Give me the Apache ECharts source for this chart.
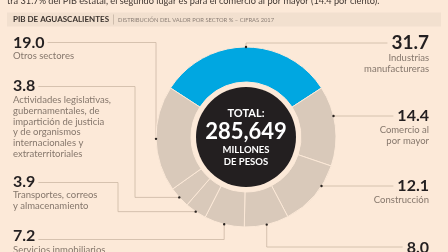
<!DOCTYPE html>
<html><head><meta charset="utf-8">
<script src="https://cdn.jsdelivr.net/npm/echarts@6/dist/echarts.min.js"></script>
<style>html,body{margin:0;padding:0;background:#fce9d8;}#c{width:448px;height:252px;}</style>
</head><body><div id="c"></div>
<script>
// ---- data ----
const sectorNames = ['Industrias\nmanufactureras','Comercio al\npor mayor','Construcción','Comercio al\npor menor','Servicios inmobiliarios\ny de alquiler de bienes','Transportes, correos\ny almacenamiento','Actividades legislativas,\ngubernamentales, de\nimpartición de justicia\ny de organismos\ninternacionales y\nextraterritoriales','Otros sectores'];
const sectorValues = [31.7, 14.4, 12.1, 8.0, 7.2, 3.9, 3.8, 19.0];
const valueLabels = ['31.7','14.4','12.1','8.0','7.2','3.9','3.8','19.0'];
const totalTitle = 'TOTAL:';
const totalLabel = '285,649';
const totalUnit = ['MILLONES','DE PESOS'];
const titleMain = 'PIB DE AGUASCALIENTES';
const titleSub = 'DISTRIBUCIÓN DEL VALOR POR SECTOR % – CIFRAS 2017';
const leadText = 'tra 31.7% del PIB estatal, el segundo lugar es para el comercio al por mayor (14.4 por ciento).';

// ---- layout / style ----
const CX = 246, CY = 137, R0 = 55, R = 90, RC = 50;
const FONT = 'Lato';
const BG = '#fce9d8', BAR = '#f2e0cf', GRAY = '#d9c9ba', BLUE = '#00a7e1', DARK = '#231f20', LINE = '#cbb7a4', DESC = '#85776c';
const LEFT_X = 13, RIGHT_X = 429;
const labelCfg = [
  {side:'R', y:32,    lineY:43,    path:'top', big:true},
  {side:'R', y:107.5, lineY:116,   path:'arc'},
  {side:'R', y:177.5, lineY:186,   path:'arc'},
  {side:'R', y:239,   lineY:247,   path:'down'},
  {side:'L', y:227.5, lineY:239.5, path:'down'},
  {side:'L', y:173,   lineY:182.5, path:'elbow', elbowX:118},
  {side:'L', y:77.5,  lineY:86.5,  path:'elbow', elbowX:135},
  {side:'L', y:34,    lineY:42.5,  path:'top'}
];

const sum = sectorValues.reduce((a,b)=>a+b,0);
const startAngle = 90 + sectorValues[0]/sum*180;
let cum = 0;
const midAnchors = sectorValues.map(v => {
  const a = (startAngle - (cum + v/2)/sum*360) * Math.PI/180;
  cum += v;
  return [CX + R*Math.cos(a), CY - R*Math.sin(a)];
});
const mctx = document.createElement('canvas').getContext('2d');
function numWidth(i){
  mctx.font = 'bold ' + (labelCfg[i].big ? 19 : 16) + 'px ' + FONT;
  return mctx.measureText(valueLabels[i]).width;
}
const anchors = [];
const linePts = labelCfg.map((c, i) => {
  const w = numWidth(i);
  const sx = c.side === 'L' ? LEFT_X + w + 3 : RIGHT_X - w - 4;
  let A = midAnchors[i];
  if (c.path === 'arc') {
    const dy = c.lineY - CY;
    A = [CX + Math.sqrt(R*R - dy*dy), c.lineY];
  }
  anchors[i] = A;
  if (c.path === 'top') return [[sx, c.lineY], [A[0], c.lineY], A];
  if (c.path === 'arc') return [A, [sx, c.lineY]];
  if (c.path === 'down') return [A, [A[0], c.lineY], [sx, c.lineY]];
  return [[sx, c.lineY], [c.elbowX, c.lineY], [c.elbowX, A[1]], A];
});

const chart = echarts.init(document.getElementById('c'), null, {renderer:'canvas'});
chart.setOption({
  backgroundColor: BG,
  animation: false,
  graphic: [
    {type:'text', silent:true, style:{text:leadText, x:7, y:5.5, verticalAlign:'bottom', font:'9.2px ' + FONT, fill:'#3f3631'}},
    {type:'rect', silent:true, shape:{x:7, y:12.5, width:434, height:14}, style:{fill:BAR}},
    {type:'text', silent:true, style:{text:titleMain, x:13, y:19.8, verticalAlign:'middle', font:'bold 8px ' + FONT, fill:'#3a322d'}},
    {type:'rect', silent:true, shape:{x:113, y:14.5, width:0.6, height:10}, style:{fill:'#b5a596'}},
    {type:'text', silent:true, style:{text:titleSub, x:118, y:19.8, verticalAlign:'middle', font:'5.8px ' + FONT, fill:'#8c7f76'}}
  ].concat(anchors.map(a => ({type:'circle', silent:true, z:100, shape:{cx:a[0], cy:a[1], r:1.2}, style:{fill:'#2b2420'}}))),
  series: [
    {
      type:'pie', center:[CX, CY], radius:[R0, R], startAngle: startAngle, clockwise:true,
      avoidLabelOverlap:false, silent:true,
      itemStyle:{borderColor:BG, borderWidth:1},
      emphasis:{disabled:true},
      data: sectorValues.map((v,i) => ({value:v, name:sectorNames[i], itemStyle:{color: i===0 ? BLUE : GRAY}})),
      label:{
        show:true, position:'outside',
        formatter: p => '{' + (labelCfg[p.dataIndex].big ? 'nb' : 'n') + '|' + valueLabels[p.dataIndex] + '}\n' +
          p.name.split('\n').map(s => '{d|' + s + '}').join('\n'),
        rich:{
          n:{fontFamily:FONT, fontWeight:'bold', fontSize:16, lineHeight:17, color:DARK},
          nb:{fontFamily:FONT, fontWeight:'bold', fontSize:19, lineHeight:21, color:DARK},
          d:{fontFamily:FONT, fontSize:9.5, lineHeight:10.8, color:DESC}
        }
      },
      labelLine:{show:true, length:5, length2:5, lineStyle:{color:LINE, width:0.8}},
      labelLayout: p => {
        const c = labelCfg[p.dataIndex];
        return {x: c.side === 'L' ? LEFT_X : RIGHT_X, y: c.y, align: c.side === 'L' ? 'left' : 'right',
                verticalAlign:'top', labelLinePoints: linePts[p.dataIndex]};
      }
    },
    {
      type:'pie', center:[CX, CY], radius:[0, RC], silent:true, emphasis:{disabled:true},
      data:[{value:1, name:'total', itemStyle:{color:DARK}}],
      labelLine:{show:false},
      label:{
        show:true, position:'center',
        formatter: '{t|' + totalTitle + '}\n{v|' + totalLabel + '}\n' + totalUnit.map(u => '{u|' + u + '}').join('\n'),
        rich:{
          t:{fontFamily:FONT, fontWeight:'bold', fontSize:11, lineHeight:14, color:'#fff'},
          v:{fontFamily:FONT, fontWeight:'bold', fontSize:22, lineHeight:24, color:'#fff'},
          u:{fontFamily:FONT, fontWeight:'bold', fontSize:9.5, lineHeight:12, color:'#fff'}
        }
      }
    }
  ]
});
</script></body></html>
